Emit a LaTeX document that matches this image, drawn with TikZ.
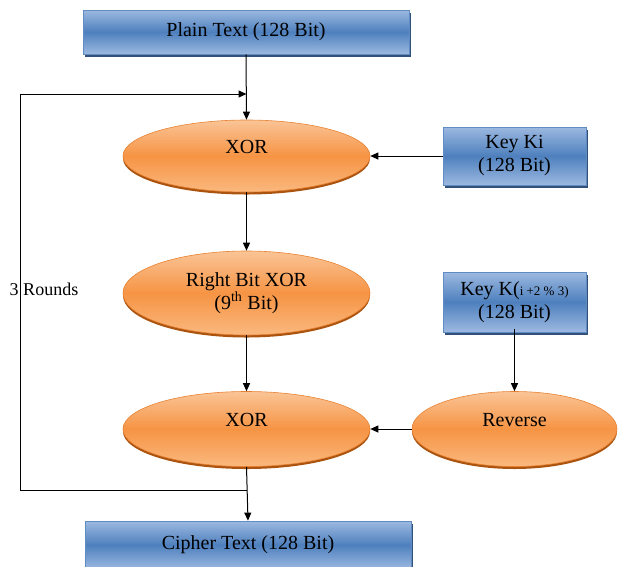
\documentclass[tikz,border=0pt]{standalone}
\usepackage{fontspec}
\setmainfont{Liberation Serif}
\usetikzlibrary{arrows.meta,shapes.geometric,shadows}
\definecolor{boxlight}{RGB}{156,185,224}
\definecolor{boxdark}{RGB}{78,128,190}
\definecolor{boxedge}{RGB}{96,140,196}
\definecolor{boxshadow}{RGB}{50,80,120}
\definecolor{ovtop}{RGB}{250,196,150}
\definecolor{ovmid}{RGB}{246,148,68}
\definecolor{ovbot}{RGB}{250,184,126}
\definecolor{ovedge}{RGB}{232,130,50}
\definecolor{ovshadow}{RGB}{170,84,16}
\begin{document}
\begin{tikzpicture}[x=1pt,y=-1pt,
  lbl/.style={font=\fontsize{20}{23}\selectfont, align=center, text=black},
  box/.style={lbl, rectangle, draw=boxedge, line width=0.8pt,
    top color=boxlight, bottom color=boxlight, middle color=boxdark,
    inner sep=0pt,
    drop shadow={shadow xshift=1.5pt, shadow yshift=-2.5pt, fill=boxshadow, opacity=1}},
  oval/.style={lbl, ellipse, draw=ovedge, line width=0.6pt,
    top color=ovtop, bottom color=ovbot, middle color=ovmid,
    inner sep=0pt,
    drop shadow={shadow xshift=0pt, shadow yshift=-2.5pt, fill=ovshadow, opacity=1}},
  raised/.style={text height=14pt, text depth=19pt},
  arr/.style={-{Triangle[length=8pt,width=7pt]}, line width=1pt, black},
]
\useasboundingbox (0,0) rectangle (618,566);

% 3 Rounds label (drawn first, the loop line passes over it)
\node[font=\fontsize{18}{20}\selectfont, inner sep=0pt] (rounds) at (44,289) {3 Rounds};

% boxes
\node[box, minimum width=326pt, minimum height=44pt] (plain) at (246,32) {\raisebox{3pt}{Plain Text (128 Bit)}};
\node[box, minimum width=143pt, minimum height=58pt] (keyki) at (514.5,156) {Key Ki\\(128 Bit)};
\node[box, minimum width=143pt, minimum height=60pt] (keyk) at (514.5,302) {Key K({\fontsize{13}{13}\selectfont i +2 \% 3)}\\(128 Bit)};
\node[box, minimum width=326pt, minimum height=48pt] (cipher) at (248,545) {\raisebox{5pt}{Cipher Text (128 Bit)}};

% ellipses
\node[oval, raised, minimum width=247pt, minimum height=72pt] (xor1) at (246.5,156) {XOR};
\node[oval, minimum width=247pt, minimum height=84pt] (rbx) at (246.5,293) {Right Bit XOR\\(9\textsuperscript{th} Bit)};
\node[oval, raised, minimum width=247pt, minimum height=75pt] (xor2) at (246.5,429) {XOR};
\node[oval, raised, minimum width=205pt, minimum height=75pt] (rev) at (514.5,429) {Reverse};

% loop coordinates
\coordinate (loopTR) at (246.5,94);
\coordinate (loopTL) at (20,94);
\coordinate (loopBL) at (20,490);
\coordinate (loopBR) at (246.5,490);

% connectors
\draw[arr] (plain.south) -- (xor1.north);
\draw[arr] (keyki.west) -- (xor1.east);
\draw[arr] (xor1.south) -- (rbx.north);
\draw[arr] (rbx.south) -- (xor2.north);
\draw[arr] ([yshift=3pt]keyk.south) -- (rev.north);
\draw[arr] (rev.west) -- (xor2.east);
\draw[arr] (xor2.south) -- (cipher.north);
\draw[arr] (loopBR) -- (loopBL) -- (loopTL) -- (loopTR);
\end{tikzpicture}
\end{document}
